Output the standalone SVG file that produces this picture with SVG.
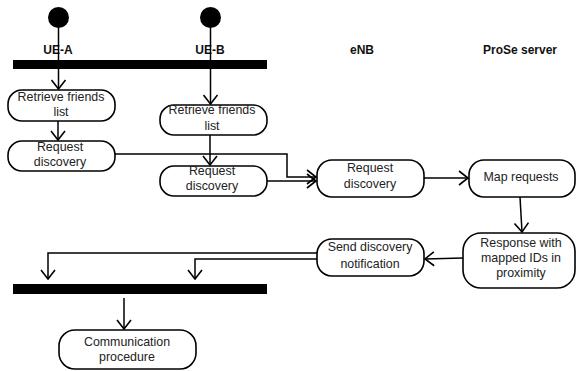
<svg xmlns="http://www.w3.org/2000/svg" width="576" height="371" viewBox="0 0 576 371">
  <style>
    .node rect { fill: #fff; stroke: #000; stroke-width: 1.6; }
    .node text { font-family: "Liberation Sans", Arial, sans-serif; font-size: 12.4px; fill: #222; text-anchor: middle; }
    .lane { font-family: "Liberation Sans", Arial, sans-serif; font-size: 12px; font-weight: bold; fill: #111; text-anchor: middle; }
    .bar { fill: #000; }
    #connectors path { fill: none; stroke: #000; stroke-width: 1.5; }
  </style>
  <defs>
    <marker id="arrow" markerUnits="userSpaceOnUse" viewBox="-1 -8 11 16" refX="9" refY="0" markerWidth="11" markerHeight="16" orient="auto">
      <path d="M0,-7 L9,0 L0,7" fill="none" stroke="#000" stroke-width="1.6"/>
    </marker>
  </defs>
  <rect width="576" height="371" fill="#fff"/>

  <!-- lane titles -->
  <text class="lane" x="58" y="54">UE-A</text>
  <text class="lane" x="210" y="54">UE-B</text>
  <text class="lane" x="362" y="54">eNB</text>
  <text class="lane" x="520" y="54">ProSe server</text>

  <!-- connectors -->
  <g id="connectors">
    <path d="M58.5,20 V89" marker-end="url(#arrow)"/>
    <path d="M210.5,20 V104" marker-end="url(#arrow)"/>
    <path d="M58,121 V140" marker-end="url(#arrow)"/>
    <path d="M210,135 V165" marker-end="url(#arrow)"/>
    <path d="M115,154 H287 V177 H316" marker-end="url(#arrow)"/>
    <path d="M267,181 H316" marker-end="url(#arrow)"/>
    <path d="M424,178 H468" marker-end="url(#arrow)"/>
    <path d="M520,197 L522,232" marker-end="url(#arrow)"/>
    <path d="M463,258 L425,259" marker-end="url(#arrow)"/>
    <path d="M317,253 H48 V279" marker-end="url(#arrow)"/>
    <path d="M317,259 H195 V279" marker-end="url(#arrow)"/>
    <path d="M124,298 V329" marker-end="url(#arrow)"/>
  </g>

  <!-- start points -->
  <g id="start-ue-a"><circle cx="58.5" cy="17.5" r="10.5" fill="#000"/></g>
  <g id="start-ue-b"><circle cx="210.5" cy="17.5" r="10.5" fill="#000"/></g>

  <!-- fork / join bars -->
  <g id="fork"><rect class="bar" x="13" y="60" width="254" height="9"/></g>
  <g id="join"><rect class="bar" x="13" y="284" width="254" height="10"/></g>

  <g id="ue-a-retrieve" class="node">
    <rect x="8" y="90" width="107" height="31" rx="14"/>
    <text x="61" y="101">Retrieve friends</text>
    <text x="61" y="116">list</text>
  </g>
  <g id="ue-b-retrieve" class="node">
    <rect x="160" y="105" width="107" height="30" rx="14"/>
    <text x="212" y="114">Retrieve friends</text>
    <text x="212" y="130">list</text>
  </g>
  <g id="ue-a-request" class="node">
    <rect x="8" y="141" width="107" height="30" rx="14"/>
    <text x="60" y="151">Request</text>
    <text x="60" y="166">discovery</text>
  </g>
  <g id="ue-b-request" class="node">
    <rect x="160" y="166" width="107" height="30" rx="14"/>
    <text x="212" y="175">Request</text>
    <text x="212" y="190">discovery</text>
  </g>
  <g id="enb-request" class="node">
    <rect x="317" y="160" width="107" height="37" rx="15"/>
    <text x="370" y="172">Request</text>
    <text x="370" y="188">discovery</text>
  </g>
  <g id="map-requests" class="node">
    <rect x="469" y="160" width="106" height="37" rx="15"/>
    <text x="521" y="181">Map requests</text>
  </g>
  <g id="response" class="node">
    <rect x="463" y="233" width="112" height="55" rx="18"/>
    <text x="521" y="247">Response with</text>
    <text x="521" y="262">mapped IDs in</text>
    <text x="521" y="277">proximity</text>
  </g>
  <g id="send-notification" class="node">
    <rect x="317" y="239" width="107" height="37" rx="15"/>
    <text x="370" y="251">Send discovery</text>
    <text x="370" y="268">notification</text>
  </g>
  <g id="communication" class="node">
    <rect x="59" y="330" width="137" height="39" rx="16"/>
    <text x="127" y="346">Communication</text>
    <text x="127" y="361">procedure</text>
  </g>
</svg>
